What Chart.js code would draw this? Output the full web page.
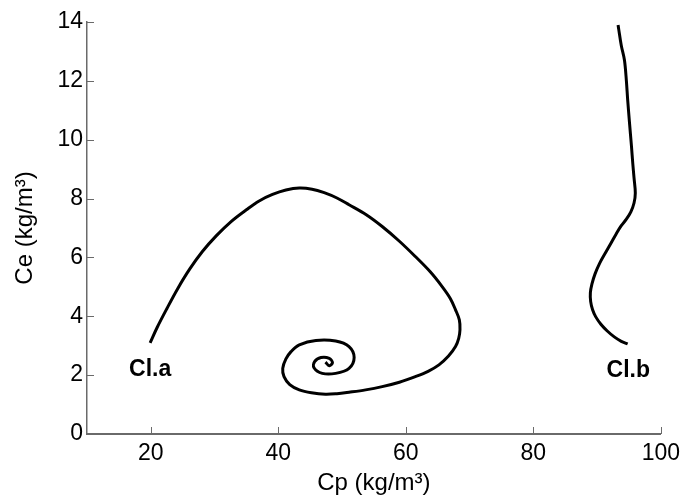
<!DOCTYPE html>
<html>
<head>
<meta charset="utf-8">
<script src="https://cdn.jsdelivr.net/npm/chart.js@4/dist/chart.umd.min.js"></script>
<style>
html,body{margin:0;padding:0;background:#fff;}
#wrap{width:686px;height:499px;position:relative;}
</style>
</head>
<body>
<div id="wrap"><canvas id="c" width="686" height="499"></canvas></div>
<script>
// Cl.a trajectory (Cp, Ce)
const claX = [19.9,21.0,22.5,24.2,26.1,28.1,30.3,32.6,35.0,37.0,39.1,41.2,43.3,45.3,47.2,49.2,51.1,53.8,56.3,59.0,61.5,63.8,65.7,67.0,67.8,68.4,68.5,68.3,67.8,66.7,65.2,63.5,61.5,59.0,56.3,53.7,51.1,49.2,47.4,45.2,43.3,41.8,40.9,40.7,41.2,42.0,43.3,45.9,49.0,51.1,51.9,51.1,49.0,46.9,45.6,45.7,46.7,48.0,48.5,48.0,47.4];
const claY = [3.10,3.62,4.25,4.93,5.60,6.20,6.74,7.22,7.62,7.92,8.14,8.29,8.36,8.32,8.20,8.02,7.79,7.45,7.05,6.55,6.03,5.52,5.01,4.60,4.22,3.88,3.54,3.25,2.97,2.65,2.35,2.13,1.95,1.76,1.61,1.50,1.42,1.37,1.35,1.40,1.50,1.68,1.95,2.23,2.55,2.80,3.03,3.18,3.16,2.97,2.60,2.23,2.06,2.06,2.25,2.46,2.60,2.57,2.42,2.32,2.44];
// Cl.b trajectory (Cp, Ce)
const clbX = [93.3,93.4,93.8,94.3,94.6,94.8,95.1,95.4,95.6,95.8,96.0,95.8,95.3,94.6,93.8,93.0,92.2,91.3,90.4,89.7,89.2,88.95,89.0,89.3,89.8,90.6,91.6,92.7,93.8,94.8];
const clbY = [13.90,13.75,13.20,12.70,12.00,11.36,10.55,9.77,9.20,8.70,8.19,7.85,7.55,7.30,7.08,6.80,6.49,6.15,5.80,5.45,5.10,4.80,4.50,4.22,3.98,3.73,3.50,3.30,3.15,3.06];
// axis ticks
const xTicks = [20,40,60,80,100];
const yTicks = [0,2,4,6,8,10,12,14];
// curve labels
const curveLabels = ['Cl.a','Cl.b'];
const labelX = [19.9,94.9];
const labelY = [2.18,2.14];

const toPts = (xs, ys) => xs.map((x, i) => ({x: x, y: ys[i]}));

const AXIS_COLOR = '#6a6a6a';

const inwardTicks = {
  id: 'inwardTicks',
  afterDraw(chart) {
    const ctx = chart.ctx;
    const xs = chart.scales.x, ys = chart.scales.y;
    const a = chart.chartArea;
    ctx.save();
    ctx.strokeStyle = AXIS_COLOR;
    ctx.lineWidth = 1;
    xTicks.forEach(v => {
      const px = Math.round(xs.getPixelForValue(v)) + 0.5;
      ctx.beginPath(); ctx.moveTo(px, a.bottom); ctx.lineTo(px, a.bottom - 7); ctx.stroke();
    });
    yTicks.forEach(v => {
      if (v === 0) return;
      const py = Math.round(ys.getPixelForValue(v)) + 0.5;
      ctx.beginPath(); ctx.moveTo(a.left, py); ctx.lineTo(a.left + 7, py); ctx.stroke();
    });
    // curve labels
    ctx.fillStyle = '#000';
    ctx.font = 'bold 23px "Liberation Sans", Arial, sans-serif';
    ctx.textAlign = 'center';
    ctx.textBaseline = 'middle';
    curveLabels.forEach((t, i) => {
      ctx.fillText(t, xs.getPixelForValue(labelX[i]), ys.getPixelForValue(labelY[i]));
    });
    ctx.restore();
  }
};

Chart.defaults.font.family = '"Liberation Sans", Arial, sans-serif';
Chart.defaults.color = '#000';

new Chart(document.getElementById('c'), {
  type: 'scatter',
  data: {
    datasets: [
      {label: 'Cl.a', data: toPts(claX, claY), showLine: true, borderColor: '#000', borderWidth: 3, pointRadius: 0, tension: 0.35, fill: false},
      {label: 'Cl.b', data: toPts(clbX, clbY), showLine: true, borderColor: '#000', borderWidth: 3, pointRadius: 0, tension: 0.35, fill: false}
    ]
  },
  options: {
    responsive: false,
    animation: false,
    devicePixelRatio: 1,
    layout: {padding: {top: 22, right: 23, left: 0, bottom: 0}},
    plugins: {legend: {display: false}, tooltip: {enabled: false}},
    scales: {
      x: {
        type: 'linear', min: 10, max: 100,
        afterBuildTicks(s) { s.ticks = xTicks.map(v => ({value: v})); },
        afterFit(s) { s.height = 65; },
        grid: {display: true, drawOnChartArea: false, drawTicks: false},
        border: {display: true, color: AXIS_COLOR, width: 2},
        ticks: {font: {size: 23}, padding: 6, color: '#000', maxRotation: 0},
        title: {display: true, text: 'Cp (kg/m³)', font: {size: 24}, color: '#000', padding: {top: 0, bottom: 1}}
      },
      y: {
        type: 'linear', min: 0, max: 14,
        afterBuildTicks(s) { s.ticks = yTicks.map(v => ({value: v})); },
        afterFit(s) { s.width = 87; },
        grid: {display: true, drawOnChartArea: false, drawTicks: false},
        border: {display: true, color: AXIS_COLOR, width: 1.5},
        ticks: {font: {size: 23}, padding: 4, color: '#000'},
        title: {display: true, text: 'Ce (kg/m³)', font: {size: 24}, color: '#000', padding: {top: 11, bottom: 0}}
      }
    }
  },
  plugins: [inwardTicks]
});
</script>
</body>
</html>
